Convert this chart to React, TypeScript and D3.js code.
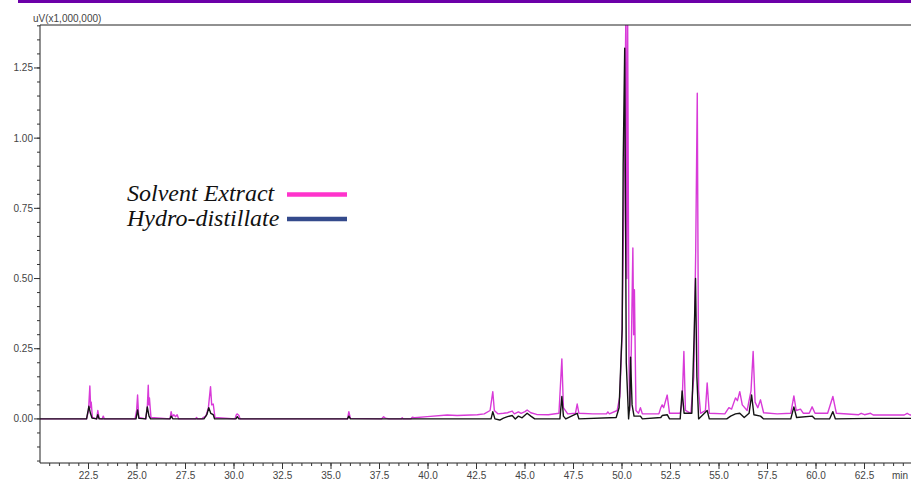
import React from 'react';
import * as d3 from 'd3';

// retention time (min) / signal (uV x 1,000,000)
const solventExtract: [number, number][] = [
  [20.0, 0.0], [22.40, 0.0], [22.50, 0.03], [22.57, 0.117], [22.61, 0.04], [22.64, 0.06], [22.70, 0.005],
  [22.92, 0.0], [22.98, 0.03], [23.05, 0.002], [23.20, 0.0], [23.26, 0.01], [23.32, 0.0],
  [24.90, 0.0], [24.98, 0.03], [25.03, 0.085], [25.09, 0.005], [25.45, 0.0], [25.53, 0.04], [25.58, 0.12],
  [25.61, 0.05], [25.64, 0.075], [25.72, 0.005], [26.70, 0.0], [26.76, 0.026], [26.82, 0.008], [26.90, 0.015],
  [26.98, 0.008], [27.07, 0.015], [27.15, 0.0], [28.02, 0.0], [28.07, 0.005], [28.12, 0.0], [28.36, 0.0],
  [28.41, 0.005], [28.55, 0.01], [28.68, 0.04], [28.79, 0.115], [28.85, 0.05], [28.93, 0.053], [29.02, 0.005],
  [30.05, 0.0], [30.12, 0.015], [30.17, 0.018], [30.25, 0.012], [30.32, 0.0], [35.85, 0.0], [35.92, 0.026],
  [36.00, 0.002], [37.60, 0.0], [37.71, 0.008], [37.80, 0.003], [38.0, 0.0], [38.62, 0.0], [38.67, 0.004],
  [38.72, 0.0], [39.12, 0.0], [39.19, 0.006], [39.30, 0.004], [39.96, 0.008], [40.99, 0.014], [41.5, 0.012],
  [42.54, 0.015], [42.9, 0.018], [43.2, 0.03], [43.34, 0.097], [43.42, 0.03], [43.6, 0.018], [43.89, 0.02],
  [44.1, 0.022], [44.34, 0.028], [44.45, 0.018], [44.66, 0.025], [44.8, 0.02], [45.0, 0.026], [45.11, 0.032],
  [45.3, 0.022], [45.6, 0.016], [46.2, 0.015], [46.75, 0.02], [46.90, 0.214], [46.98, 0.04], [47.2, 0.018],
  [47.60, 0.02], [47.69, 0.053], [47.78, 0.02], [48.5, 0.018], [49.20, 0.018], [49.27, 0.025], [49.35, 0.018],
  [49.75, 0.03], [49.89, 0.08], [50.0, 0.3], [50.12, 0.9], [50.2, 1.45], [50.25, 0.5], [50.29, 1.45],
  [50.36, 0.2], [50.40, 0.03], [50.48, 0.25], [50.56, 0.609], [50.60, 0.3], [50.64, 0.46], [50.72, 0.03],
  [50.85, 0.02], [50.95, 0.04], [51.05, 0.018], [51.9, 0.018], [52.0, 0.04], [52.07, 0.05], [52.15, 0.04],
  [52.33, 0.085], [52.45, 0.02], [53.0, 0.02], [53.1, 0.06], [53.19, 0.24], [53.27, 0.03], [53.55, 0.02],
  [53.7, 0.15], [53.8, 0.6], [53.88, 1.16], [53.95, 0.1], [54.05, 0.02], [54.3, 0.03], [54.39, 0.128],
  [54.5, 0.02], [55.3, 0.018], [55.51, 0.04], [55.65, 0.035], [55.85, 0.075], [55.95, 0.065], [56.07, 0.097],
  [56.2, 0.05], [56.45, 0.03], [56.65, 0.1], [56.76, 0.24], [56.86, 0.06], [57.0, 0.04], [57.14, 0.068],
  [57.3, 0.022], [58.0, 0.018], [58.7, 0.02], [58.86, 0.082], [58.98, 0.03], [59.20, 0.035], [59.35, 0.02],
  [59.65, 0.02], [59.80, 0.043], [59.95, 0.02], [60.6, 0.02], [60.87, 0.08], [61.05, 0.02], [62.2, 0.015],
  [62.33, 0.02], [62.5, 0.015], [62.81, 0.02], [62.95, 0.014], [64.55, 0.014], [64.70, 0.02], [64.85, 0.014],
  [65.0, 0.014],
];

const hydroDistillate: [number, number][] = [
  [20.0, 0.0], [22.40, 0.0], [22.52, 0.045], [22.60, 0.02], [22.68, 0.003], [22.92, 0.0], [22.98, 0.015],
  [23.05, 0.0], [24.95, 0.0], [25.03, 0.032], [25.10, 0.002], [25.45, 0.0], [25.53, 0.043], [25.62, 0.01],
  [25.70, 0.0], [26.70, 0.0], [26.76, 0.01], [26.85, 0.0], [28.45, 0.0], [28.6, 0.015], [28.70, 0.04],
  [28.8, 0.02], [28.93, 0.015], [29.0, 0.0], [30.1, 0.0], [30.17, 0.008], [30.25, 0.0], [35.85, 0.0],
  [35.92, 0.01], [36.0, 0.0], [43.25, 0.0], [43.34, 0.026], [43.45, 0.0], [43.7, -0.004], [43.89, 0.003],
  [44.1, 0.008], [44.34, 0.012], [44.5, 0.0], [44.66, 0.01], [44.85, 0.004], [45.11, 0.02], [45.3, 0.01],
  [45.5, 0.0], [46.8, 0.0], [46.90, 0.08], [46.98, 0.01], [47.1, 0.0], [47.69, 0.02], [47.78, 0.0],
  [49.7, 0.005], [49.85, 0.04], [50.01, 0.32], [50.06, 0.905], [50.14, 1.32], [50.22, 0.2], [50.34, 0.0],
  [50.40, 0.05], [50.44, 0.22], [50.52, 0.05], [50.62, 0.01], [50.95, 0.01], [51.05, 0.0], [52.0, 0.005],
  [52.07, 0.012], [52.33, 0.015], [52.45, 0.0], [53.0, 0.0], [53.10, 0.1], [53.2, 0.02], [53.6, 0.02],
  [53.72, 0.3], [53.79, 0.50], [53.86, 0.15], [53.95, 0.0], [54.39, 0.03], [54.5, 0.0], [55.4, 0.0],
  [55.6, 0.01], [55.85, 0.018], [56.07, 0.02], [56.3, 0.005], [56.55, 0.02], [56.68, 0.085], [56.8, 0.015],
  [57.14, 0.01], [57.3, 0.0], [58.7, 0.0], [58.86, 0.043], [59.0, 0.005], [59.8, 0.01], [59.95, 0.0],
  [60.7, 0.0], [60.87, 0.026], [61.0, 0.0], [62.81, 0.002], [65.0, 0.002],
];

const xTickLabels = [22.5, 25.0, 27.5, 30.0, 32.5, 35.0, 37.5, 40.0, 42.5, 45.0, 47.5, 50.0, 52.5, 55.0, 57.5, 60.0, 62.5];
const yTickLabels = [0, 0.25, 0.5, 0.75, 1.0, 1.25];

const legendItems = [
  { name: 'Solvent Extract', color: '#ff33cc' },
  { name: 'Hydro-distillate', color: '#344a8c' },
];

const W = 911, H = 482;
const left = 40, right = 913, top = 25, bottom = 463;

const x = d3.scaleLinear().domain([20, 65]).range([left, right]);
const y = d3.scaleLinear().domain([-0.157, 1.403]).range([bottom, top]);

const line = d3.line<[number, number]>().x(d => x(d[0])).y(d => y(d[1]));

export default function App() {
  const xMinor = d3.range(20.5, 65, 0.5);
  const yMinor = d3.range(-0.15, 1.401, 0.05);
  return (
    <svg width={W} height={H} style={{ position: 'absolute', left: 0, top: 0, background: '#fff' }}
      fontFamily="'Liberation Sans', Arial, sans-serif">
      <defs>
        <clipPath id="plot">
          <rect x={left} y={top} width={W - left} height={bottom - top} />
        </clipPath>
      </defs>
      <rect x={18} y={0} width={W - 18} height={3} fill="#6c00a8" />

      {/* traces */}
      <g clipPath="url(#plot)" fill="none" strokeLinejoin="round">
        <path d={line(solventExtract) || ''} stroke="#d83ad8" strokeWidth={1.4} />
        <path d={line(hydroDistillate) || ''} stroke="#141414" strokeWidth={1.4} />
      </g>

      {/* frame */}
      <line x1={left} x2={W} y1={top} y2={top} stroke="#222" />
      <line x1={left} x2={left} y1={top} y2={bottom} stroke="#222" />
      <line x1={left} x2={W} y1={bottom} y2={bottom} stroke="#222" />

      {/* y axis */}
      {yMinor.map((v, i) => (
        <line key={'ym' + i} x1={left - 3} x2={left} y1={y(v)} y2={y(v)} stroke="#333" />
      ))}
      {yTickLabels.map(v => (
        <g key={'y' + v}>
          <line x1={left - 6} x2={left} y1={y(v)} y2={y(v)} stroke="#333" />
          <text x={left - 7} y={y(v)} dy="0.35em" textAnchor="end" fontSize={10} fill="#444">{v.toFixed(2)}</text>
        </g>
      ))}
      <text x={33} y={22} fontSize={10} fill="#444">uV(x1,000,000)</text>

      {/* x axis */}
      {xMinor.map((v, i) => (
        <line key={'xm' + i} x1={x(v)} x2={x(v)} y1={bottom} y2={bottom + 3} stroke="#333" />
      ))}
      {xTickLabels.map(v => (
        <g key={'x' + v}>
          <line x1={x(v)} x2={x(v)} y1={bottom} y2={bottom + 6} stroke="#333" />
          <text x={x(v)} y={479} textAnchor="middle" fontSize={10} fill="#444">{v.toFixed(1)}</text>
        </g>
      ))}
      <text x={892} y={479} fontSize={10} fill="#444">min</text>

      {/* legend */}
      {legendItems.map((d, i) => (
        <g key={d.name}>
          <text x={127} y={201 + i * 24.5} fontFamily="'Liberation Serif', 'Times New Roman', serif"
            fontStyle="italic" fontSize={24} fill="#111">{d.name}</text>
          <line x1={287} x2={347} y1={194.5 + i * 24.5} y2={194.5 + i * 24.5} stroke={d.color} strokeWidth={4.5} />
        </g>
      ))}
    </svg>
  );
}
